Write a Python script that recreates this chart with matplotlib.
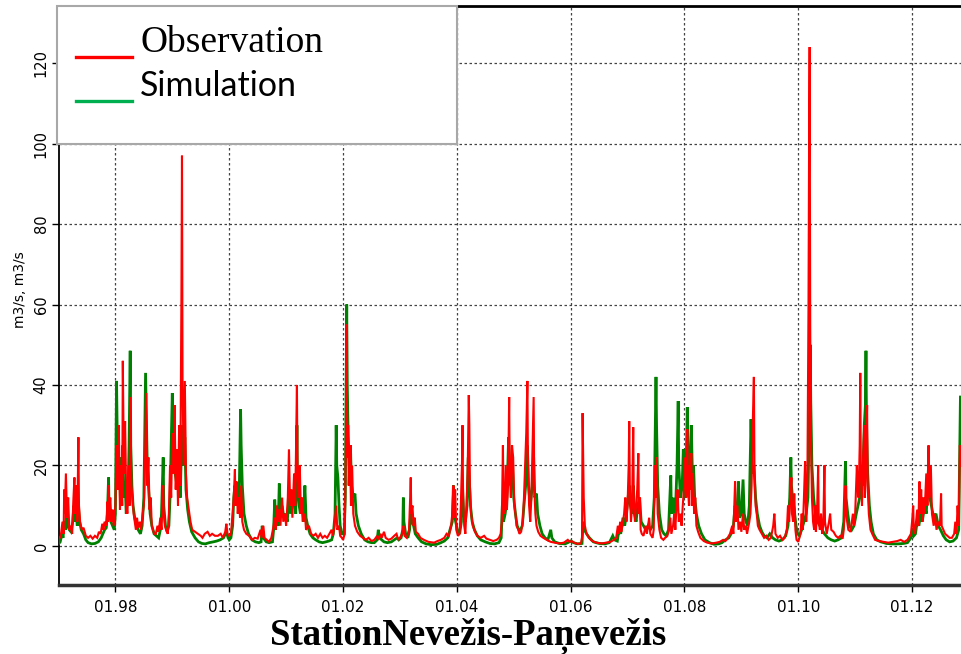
import matplotlib
matplotlib.use("Agg")
import matplotlib.pyplot as plt
from matplotlib.patches import Rectangle
from matplotlib.lines import Line2D
import numpy as np

# ---------------- data (decimal year, discharge m3/s) ----------------
obs_points = [
(1997.00,1.5),(1997.04,2.5),(1997.07,6),(1997.09,3),(1997.10,14),(1997.11,8),(1997.13,18),(1997.15,7),
(1997.17,12),(1997.19,4),(1997.21,5),(1997.24,3),(1997.26,11),(1997.28,17),(1997.29,8),(1997.31,15),
(1997.33,6),(1997.35,27),(1997.36,10),(1997.38,6),(1997.41,4),(1997.44,4.5),(1997.48,2.5),(1997.52,2),
(1997.56,2.5),(1997.60,1.8),(1997.64,2.5),(1997.68,2),(1997.71,3.5),(1997.74,3),(1997.77,5.5),(1997.79,4),
(1997.81,6),(1997.84,5),(1997.86,11),(1997.87,6),(1997.88,15),(1997.89,8),(1997.91,12),(1997.93,6),
(1997.95,9),(1997.97,5),(1998.00,10),(1998.02,25),(1998.04,14),(1998.06,30),(1998.08,9),(1998.10,20),
(1998.12,10),(1998.13,46),(1998.15,18),(1998.17,31),(1998.19,12),(1998.21,8),(1998.23,20),(1998.25,10),
(1998.26,37),(1998.28,15),(1998.30,12),(1998.32,8),(1998.34,6),(1998.36,4),(1998.38,7),(1998.40,4.5),
(1998.43,6),(1998.45,4),(1998.48,8),(1998.50,10),(1998.52,20),(1998.54,38),(1998.56,15),(1998.58,22),
(1998.60,9),(1998.62,12),(1998.64,5),(1998.66,4),(1998.68,3),(1998.71,3),(1998.74,5),(1998.76,3.5),
(1998.79,7),(1998.81,4),(1998.84,15),(1998.85,8),(1998.87,5),(1998.89,4),(1998.92,3),(1998.94,8),
(1998.96,20),(1998.98,12),(1999.00,28),(1999.02,18),(1999.04,35),(1999.06,14),(1999.08,24),(1999.10,10),
(1999.12,30),(1999.14,15),(1999.16,62),(1999.17,97),(1999.18,40),(1999.20,20),(1999.22,41),(1999.24,18),
(1999.26,12),(1999.29,9),(1999.32,6),(1999.35,4),(1999.40,3.5),(1999.45,3),(1999.50,2.5),(1999.53,2),
(1999.57,3),(1999.62,3.5),(1999.66,2.5),(1999.70,3),(1999.75,2.5),(1999.80,2.5),(1999.85,3),(1999.89,2),
(1999.93,3.5),(1999.95,5.5),(1999.97,3),(2000.00,2.5),(2000.03,3),(2000.06,8),(2000.08,12),(2000.10,19),
(2000.11,10),(2000.13,16),(2000.15,8),(2000.17,12),(2000.19,7),(2000.21,15),(2000.23,6),(2000.26,4),
(2000.30,3),(2000.35,2.5),(2000.40,1.5),(2000.45,2),(2000.50,1.8),(2000.55,4),(2000.57,2),(2000.60,5),
(2000.62,2),(2000.66,1.5),(2000.70,1),(2000.74,2),(2000.78,5),(2000.80,7),(2000.82,4),(2000.84,10),
(2000.86,6),(2000.88,9),(2000.90,5),(2000.93,12),(2000.95,6),(2000.98,8),(2001.00,5),(2001.03,12),
(2001.05,24),(2001.07,10),(2001.09,14),(2001.11,7),(2001.14,18),(2001.16,10),(2001.19,40),(2001.20,18),
(2001.22,12),(2001.24,20),(2001.26,8),(2001.28,12),(2001.30,6),(2001.33,8),(2001.35,4),(2001.40,5),
(2001.44,3),(2001.48,2.5),(2001.52,3),(2001.56,2),(2001.60,3),(2001.64,2),(2001.68,2.5),(2001.72,2),
(2001.76,3),(2001.80,4),(2001.82,2.5),(2001.85,5),(2001.88,10),(2001.90,4),(2001.93,5),(2001.95,2.5),
(2001.98,2),(2002.00,1.5),(2002.03,3),(2002.05,25),(2002.06,55),(2002.07,35),(2002.08,22),(2002.09,30),
(2002.10,15),(2002.12,25),(2002.14,10),(2002.16,20),(2002.18,8),(2002.21,5),(2002.25,3.5),(2002.30,2.5),
(2002.35,2),(2002.40,1.5),(2002.45,2),(2002.50,1.2),(2002.55,1.5),(2002.60,2.5),(2002.62,1.5),(2002.66,3),
(2002.68,2),(2002.72,3.5),(2002.75,2),(2002.80,1.5),(2002.85,1.8),(2002.90,2.5),(2002.94,3),(2002.97,1.5),
(2003.00,2),(2003.04,3),(2003.06,5),(2003.08,2.5),(2003.12,2),(2003.16,4),(2003.18,12),(2003.19,17),
(2003.20,8),(2003.22,10),(2003.24,5),(2003.26,7),(2003.28,3.5),(2003.32,3),(2003.36,2),(2003.42,1.5),
(2003.50,1),(2003.60,0.8),(2003.66,1.2),(2003.72,1.5),(2003.78,2),(2003.82,3),(2003.86,2.5),(2003.90,5),
(2003.92,8),(2003.94,15),(2003.95,7),(2003.97,14),(2003.99,4),(2004.02,2.5),(2004.05,3),(2004.07,10),
(2004.09,20),(2004.10,30),(2004.11,12),(2004.13,5),(2004.15,3),(2004.17,10),(2004.19,18),(2004.21,37.5),
(2004.22,30),(2004.23,15),(2004.25,8),(2004.28,5),(2004.32,3.5),(2004.36,2.5),(2004.42,2),(2004.48,2.5),
(2004.52,1.8),(2004.58,1.5),(2004.64,1.2),(2004.70,1.5),(2004.74,2),(2004.77,3),(2004.79,6),(2004.81,25),
(2004.82,10),(2004.84,8),(2004.86,20),(2004.88,9),(2004.90,15),(2004.92,37),(2004.93,18),(2004.95,12),
(2004.97,25),(2004.99,22),(2005.01,10),(2005.03,8),(2005.05,5),(2005.08,4),(2005.10,3),(2005.13,3.5),
(2005.16,6),(2005.18,12),(2005.20,20),(2005.22,28),(2005.24,41),(2005.25,20),(2005.27,10),(2005.29,6),
(2005.31,12),(2005.33,25),(2005.35,37),(2005.36,15),(2005.38,8),(2005.40,5),(2005.43,3.5),(2005.47,2.5),
(2005.52,2),(2005.58,1.5),(2005.65,1),(2005.72,0.8),(2005.80,0.6),(2005.88,0.8),(2005.95,1.5),(2005.98,1),
(2006.02,1.2),(2006.06,0.8),(2006.12,0.5),(2006.18,0.6),(2006.20,2),(2006.21,33),(2006.23,12),(2006.25,5),
(2006.28,3),(2006.32,2),(2006.38,1.2),(2006.45,0.8),(2006.55,0.6),(2006.62,0.8),(2006.70,1),(2006.76,1.5),
(2006.80,2),(2006.83,5),(2006.85,3),(2006.87,6),(2006.89,3.5),(2006.91,5),(2006.94,8),(2006.96,12),
(2006.98,6),(2007.00,10),(2007.02,20),(2007.03,31),(2007.04,15),(2007.06,6),(2007.08,10),(2007.10,29.5),
(2007.11,12),(2007.13,6),(2007.15,10),(2007.17,14),(2007.19,23),(2007.20,8),(2007.22,12),(2007.23,4),
(2007.25,3),(2007.28,2.5),(2007.32,5),(2007.34,3),(2007.38,7),(2007.40,3),(2007.44,2),(2007.46,4),
(2007.48,20),(2007.49,12),(2007.51,22),(2007.53,8),(2007.56,4),(2007.59,2),(2007.63,1.5),(2007.66,2),
(2007.70,2.5),(2007.73,4),(2007.75,7),(2007.77,3),(2007.80,5),(2007.82,8),(2007.84,4),(2007.86,10),
(2007.88,14),(2007.90,6),(2007.93,8),(2007.95,5),(2007.97,10),(2008.00,16),(2008.02,22),(2008.03,12),
(2008.05,29),(2008.06,15),(2008.08,10),(2008.09,20),(2008.10,14),(2008.12,23),(2008.13,10),(2008.15,18),
(2008.17,8),(2008.19,12),(2008.21,5),(2008.24,3.5),(2008.28,2),(2008.34,1.2),(2008.40,0.8),(2008.48,0.6),
(2008.56,0.8),(2008.62,1),(2008.68,1.5),(2008.72,1.2),(2008.76,2),(2008.80,3),(2008.84,5),(2008.86,3),
(2008.89,16),(2008.90,6),(2008.93,10),(2008.95,4),(2008.98,6),(2009.00,3.5),(2009.03,8),(2009.05,4),
(2009.08,5),(2009.10,3),(2009.14,6),(2009.16,8),(2009.18,15),(2009.20,30),(2009.22,42),(2009.23,20),
(2009.25,10),(2009.27,8),(2009.29,5),(2009.32,4),(2009.36,3),(2009.40,2),(2009.44,2.5),(2009.48,1.5),
(2009.52,2),(2009.56,5),(2009.58,8),(2009.60,3),(2009.64,2),(2009.68,2.5),(2009.72,1.5),(2009.76,2),
(2009.80,4),(2009.82,10),(2009.84,6),(2009.86,13),(2009.88,17),(2009.89,8),(2009.91,6),(2009.93,13),
(2009.95,4),(2009.97,1.5),(2010.00,1),(2010.04,3),(2010.06,8),(2010.08,4),(2010.10,12),(2010.12,21),
(2010.14,6),(2010.16,15),(2010.18,60),(2010.19,98),(2010.20,124),(2010.21,55),(2010.22,30),(2010.24,12),
(2010.26,6),(2010.28,4),(2010.30,10),(2010.31,3.5),(2010.33,8),(2010.35,20),(2010.36,6),(2010.38,4),
(2010.40,8),(2010.42,3),(2010.44,5),(2010.46,20),(2010.47,6),(2010.50,3),(2010.54,6),(2010.56,8),
(2010.58,4),(2010.62,3.5),(2010.66,2.5),(2010.70,2),(2010.74,2.5),(2010.78,1.8),(2010.80,4),(2010.83,15),
(2010.84,8),(2010.86,6),(2010.88,4),(2010.92,3.5),(2010.96,8),(2010.98,5),(2011.00,8),(2011.03,20),
(2011.04,15),(2011.06,12),(2011.08,25),(2011.09,43),(2011.10,18),(2011.12,10),(2011.14,22),(2011.16,30),
(2011.17,12),(2011.19,20),(2011.21,35),(2011.22,15),(2011.24,8),(2011.27,4),(2011.30,3),(2011.35,1.5),
(2011.42,1.2),(2011.50,1),(2011.58,0.8),(2011.66,1),(2011.74,1.2),(2011.80,1.5),(2011.86,1),(2011.92,1.5),
(2011.96,2.5),(2011.98,3),(2012.00,6),(2012.02,10),(2012.03,4),(2012.05,3),(2012.07,6),(2012.09,9),
(2012.11,5),(2012.13,16),(2012.14,8),(2012.16,14),(2012.18,6),(2012.20,12),(2012.22,8),(2012.25,18),
(2012.27,10),(2012.29,25),(2012.30,12),(2012.33,20),(2012.35,8),(2012.38,5),(2012.40,8),(2012.43,4),
(2012.46,6),(2012.49,5),(2012.51,13),(2012.52,5),(2012.55,4),(2012.58,3),(2012.62,2.5),(2012.66,2),
(2012.70,2),(2012.74,3),(2012.76,6),(2012.78,3),(2012.80,10),(2012.82,5),(2012.84,25),(2012.86,20),
]

sim_points = [
(1997.00,0.5),(1997.03,1),(1997.06,3),(1997.08,2),(1997.10,6),(1997.12,4),(1997.14,8),(1997.16,5),
(1997.19,4),(1997.22,3.5),(1997.25,6),(1997.27,10),(1997.29,6),(1997.31,8),(1997.33,5),(1997.35,10),
(1997.37,6),(1997.40,4),(1997.44,3),(1997.48,1.5),(1997.52,0.8),(1997.58,0.5),(1997.64,0.6),(1997.70,1),
(1997.75,2),(1997.78,3),(1997.81,4),(1997.84,4.5),(1997.86,8),(1997.88,17),(1997.89,8),(1997.92,6),
(1997.95,5),(1997.98,4),(1998.00,8),(1998.02,41),(1998.03,30),(1998.05,18),(1998.07,22),(1998.09,10),
(1998.11,12),(1998.13,25),(1998.15,12),(1998.17,16),(1998.19,8),(1998.22,12),(1998.24,25),(1998.26,48.5),
(1998.27,25),(1998.29,15),(1998.31,10),(1998.34,7),(1998.37,5),(1998.40,4),(1998.44,3),(1998.47,5),
(1998.50,12),(1998.53,43),(1998.54,35),(1998.56,20),(1998.58,15),(1998.61,8),(1998.64,5),(1998.68,3),
(1998.72,2.5),(1998.76,2),(1998.79,4),(1998.81,8),(1998.84,22),(1998.85,10),(1998.88,5),(1998.91,3.5),
(1998.94,5),(1998.96,12),(1999.00,38),(1999.01,25),(1999.03,32),(1999.05,18),(1999.08,15),(1999.11,20),
(1999.14,12),(1999.17,30),(1999.19,20),(1999.22,27),(1999.24,14),(1999.27,9),(1999.30,6),(1999.34,3.5),
(1999.40,2),(1999.46,1),(1999.52,0.6),(1999.58,0.5),(1999.65,0.8),(1999.72,1),(1999.78,1.2),(1999.84,1.5),
(1999.90,2),(1999.95,3.5),(1999.98,2),(2000.00,1.5),(2000.03,2),(2000.06,5),(2000.08,12),(2000.10,15),
(2000.12,10),(2000.15,14),(2000.17,8),(2000.20,34),(2000.21,25),(2000.23,15),(2000.26,8),(2000.30,5),
(2000.34,3),(2000.40,1.5),(2000.46,1),(2000.52,0.8),(2000.56,1),(2000.58,5),(2000.60,2),(2000.65,1),
(2000.70,0.8),(2000.76,1),(2000.78,4),(2000.80,11.5),(2000.82,6),(2000.84,9),(2000.86,5),(2000.88,15.5),
(2000.90,8),(2000.93,10),(2000.96,7),(2000.99,8),(2001.02,6),(2001.05,12),(2001.08,8),(2001.11,10),
(2001.14,12),(2001.17,8),(2001.19,30),(2001.20,15),(2001.23,10),(2001.25,8),(2001.28,10),(2001.30,6),
(2001.33,15),(2001.35,7),(2001.38,5),(2001.42,3),(2001.47,2),(2001.52,1.5),(2001.58,1),(2001.64,0.8),
(2001.70,1),(2001.75,1.2),(2001.80,1.5),(2001.83,3),(2001.86,8),(2001.88,30),(2001.89,20),(2001.91,17),
(2001.93,10),(2001.95,5),(2001.98,3),(2002.02,3),(2002.04,12),(2002.065,60),(2002.075,40),(2002.09,28),
(2002.11,20),(2002.13,25),(2002.15,15),(2002.18,12),(2002.21,13),(2002.23,8),(2002.27,5),(2002.32,3),
(2002.38,1.5),(2002.44,1),(2002.50,0.8),(2002.55,0.8),(2002.60,1.5),(2002.62,4),(2002.64,2),(2002.68,1.5),
(2002.72,1),(2002.78,0.8),(2002.85,1),(2002.90,1.5),(2002.95,2),(2002.98,1.5),(2003.02,2),(2003.05,4),
(2003.06,12),(2003.07,6),(2003.10,3),(2003.14,2),(2003.17,4),(2003.19,8),(2003.21,6),(2003.24,5),
(2003.27,3),(2003.32,2),(2003.38,1),(2003.46,0.5),(2003.55,0.3),(2003.65,0.4),(2003.72,0.8),(2003.78,1.2),
(2003.84,2),(2003.88,4),(2003.92,6),(2003.94,15),(2003.95,8),(2003.98,6),(2004.01,4),(2004.05,3),
(2004.08,6),(2004.10,15),(2004.12,8),(2004.15,6),(2004.18,10),(2004.20,22),(2004.22,16),(2004.24,10),
(2004.27,6),(2004.31,4),(2004.36,2.5),(2004.42,1.5),(2004.50,1),(2004.58,0.6),(2004.66,0.5),(2004.74,0.8),
(2004.78,2),(2004.80,10),(2004.82,6),(2004.85,8),(2004.88,12),(2004.91,27),(2004.93,18),(2004.95,15),
(2004.98,20),(2005.00,12),(2005.03,8),(2005.06,5),(2005.09,4),(2005.12,4),(2005.15,5),(2005.18,10),
(2005.21,15),(2005.24,25),(2005.26,15),(2005.29,10),(2005.32,14),(2005.35,22),(2005.37,12),(2005.40,13),
(2005.42,8),(2005.46,5),(2005.50,3),(2005.55,2),(2005.60,1.5),(2005.65,4),(2005.67,2),(2005.72,1),
(2005.80,0.6),(2005.90,0.5),(2005.95,0.8),(2006.00,1.2),(2006.05,0.8),(2006.12,0.5),(2006.20,0.6),(2006.22,6),
(2006.24,4),(2006.28,3),(2006.33,2),(2006.40,1),(2006.50,0.6),(2006.60,0.5),(2006.68,0.8),(2006.74,2.5),
(2006.77,1.5),(2006.82,1.2),(2006.85,4),(2006.88,3),(2006.92,7),(2006.95,5),(2006.98,8),(2007.01,12),
(2007.03,15),(2007.05,10),(2007.08,8),(2007.10,15),(2007.12,8),(2007.15,6),(2007.18,10),(2007.21,12),
(2007.24,6),(2007.28,5),(2007.32,4),(2007.36,5),(2007.40,4),(2007.44,5),(2007.47,12),(2007.50,42),
(2007.51,30),(2007.53,15),(2007.56,8),(2007.60,4),(2007.64,3),(2007.68,2.5),(2007.72,4),(2007.76,17.5),
(2007.77,8),(2007.80,12),(2007.82,8),(2007.85,12),(2007.87,20),(2007.89,36),(2007.90,20),(2007.93,12),
(2007.96,15),(2007.98,24),(2008.00,12),(2008.03,20),(2008.05,34.5),(2008.06,22),(2008.08,15),(2008.10,22),
(2008.12,30),(2008.14,18),(2008.16,20),(2008.18,12),(2008.21,8),(2008.25,5),(2008.30,3),(2008.36,1.5),
(2008.44,0.8),(2008.52,0.4),(2008.60,0.5),(2008.66,0.8),(2008.72,1.5),(2008.78,2),(2008.82,3),(2008.86,5),
(2008.89,10),(2008.92,8),(2008.95,16),(2008.97,7),(2009.00,8),(2009.03,16.5),(2009.05,8),(2009.08,6),
(2009.11,5),(2009.14,10),(2009.17,31.5),(2009.18,25),(2009.20,18),(2009.22,20),(2009.25,12),(2009.28,8),
(2009.32,5),(2009.36,3.5),(2009.40,2.5),(2009.45,2),(2009.50,3),(2009.55,2),(2009.60,1.5),(2009.66,1.2),
(2009.72,1.5),(2009.78,2.5),(2009.82,5),(2009.85,12),(2009.87,22),(2009.88,15),(2009.90,12),(2009.93,9),
(2009.96,5),(2009.99,3),(2010.02,2.5),(2010.06,4),(2010.10,6),(2010.14,8),(2010.17,12),(2010.20,35),
(2010.21,50),(2010.22,36),(2010.24,20),(2010.27,12),(2010.30,8),(2010.34,6),(2010.38,5),(2010.42,4),
(2010.46,3),(2010.52,2),(2010.58,1.5),(2010.64,1.2),(2010.70,1.5),(2010.76,2),(2010.80,6),(2010.83,21),
(2010.84,12),(2010.87,8),(2010.90,5),(2010.94,4),(2010.98,5),(2011.02,8),(2011.05,10),(2011.08,12),
(2011.10,20),(2011.13,15),(2011.16,30),(2011.18,35),(2011.19,48.5),(2011.20,30),(2011.22,18),(2011.25,10),
(2011.28,6),(2011.32,3),(2011.38,1.5),(2011.45,1),(2011.55,0.6),(2011.65,0.5),(2011.75,0.5),(2011.85,0.6),
(2011.92,0.8),(2011.98,2),(2012.01,4),(2012.03,2.5),(2012.06,3),(2012.09,6),(2012.12,5),(2012.15,8),
(2012.18,6),(2012.22,10),(2012.25,8),(2012.29,20),(2012.31,12),(2012.34,10),(2012.38,7),(2012.42,8),
(2012.46,5),(2012.50,4),(2012.55,2.5),(2012.60,1.5),(2012.66,1),(2012.72,1.2),(2012.78,2),(2012.82,4),
(2012.85,37),
]

obs_t = [p[0] for p in obs_points]
obs_q = [p[1] for p in obs_points]
sim_t = [p[0] for p in sim_points]
sim_q = [p[1] for p in sim_points]

xtick_pos = [1998, 2000, 2002, 2004, 2006, 2008, 2010, 2012]
xtick_labels = ["01.98", "01.00", "01.02", "01.04", "01.06", "01.08", "01.10", "01.12"]
ytick_pos = [0, 20, 40, 60, 80, 100, 120]

title_text = "StationNevežis-Paņevežis"
ylabel_text = "m3/s, m3/s"
legend_labels = ["Observation", "Simulation"]

# ---------------- figure ----------------
W, H = 961, 654
fig = plt.figure(figsize=(W / 100, H / 100), dpi=100)
fig.patch.set_facecolor("white")

def fx(px):
    return px / W

def fy(py):
    return 1 - py / H

ax = fig.add_axes([fx(58.5), fy(584.5), fx(961) - fx(58.5), fy(6) - fy(584.5)])

ax.plot(sim_t, sim_q, color="#008000", lw=2.0, solid_joinstyle="miter", zorder=3)
ax.plot(obs_t, obs_q, color="#FF0000", lw=1.5, solid_joinstyle="miter", zorder=4)

ax.set_xlim(1997.0, 2012.86)
ax.set_ylim(-9.6, 134.2)

ax.set_xticks(xtick_pos)
ax.set_xticklabels(xtick_labels)
ax.set_yticks(ytick_pos)
ax.set_yticklabels([str(v) for v in ytick_pos], rotation=90, va="center")

ax.tick_params(axis="x", direction="out", length=5, width=1, labelsize=11, pad=6, colors="black")
ax.tick_params(axis="y", direction="out", length=5, width=1, labelsize=10.5, pad=2, colors="black")

ax.grid(True, color="#444444", linestyle=(0, (2, 2)), linewidth=0.9)
ax.set_axisbelow(True)

ax.spines["right"].set_visible(False)
ax.spines["left"].set_color("black")
ax.spines["left"].set_linewidth(1.3)
ax.spines["bottom"].set_color("#333333")
ax.spines["bottom"].set_linewidth(2.5)
ax.spines["top"].set_color("black")
ax.spines["top"].set_linewidth(2.0)

fig.text(fx(20), fy(290), ylabel_text, rotation=90, ha="center", va="center",
         fontsize=10, family="DejaVu Sans")

fig.text(fx(468), fy(636), title_text, ha="center", va="center",
         fontsize=26.5, fontweight="bold", family="Liberation Serif")

# ---------------- legend box ----------------
rect = Rectangle((fx(57), fy(144)), fx(457) - fx(57), fy(6) - fy(144),
                 transform=fig.transFigure, facecolor="white", edgecolor="#A8A8A8",
                 linewidth=1.5, zorder=10)
fig.patches.append(rect)
fig.add_artist(Line2D([fx(76), fx(132)], [fy(57), fy(57)], color="#FF0000", lw=2.4,
                      transform=fig.transFigure, zorder=11))
fig.add_artist(Line2D([fx(76), fx(132)], [fy(101), fy(101)], color="#00B050", lw=2.4,
                      transform=fig.transFigure, zorder=11))
fig.text(fx(140), fy(52), legend_labels[0], ha="left", va="baseline",
         fontsize=27, family="Liberation Serif", zorder=12)
fig.text(fx(140), fy(96), legend_labels[1], ha="left", va="baseline",
         fontsize=24.5, family="Lato", zorder=12)

fig.savefig("out.png", dpi=100, facecolor="white")
